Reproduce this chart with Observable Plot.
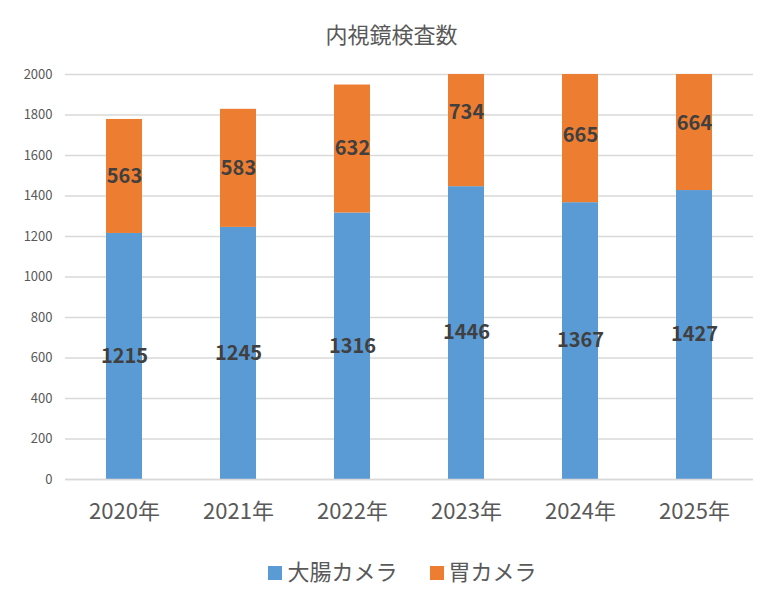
<!DOCTYPE html>
<html><head><meta charset="utf-8">
<script src="https://cdn.jsdelivr.net/npm/d3@7"></script>
<script src="https://cdn.jsdelivr.net/npm/@observablehq/plot@0.6"></script>
<style>
body{margin:0;background:#fff;font-family:"Noto Sans CJK JP","Noto Sans",sans-serif;}
#wrap{width:783px;}
#title{height:60px;text-align:center;font-size:22px;color:#595959;line-height:66px;}
#legend{display:flex;justify-content:center;align-items:center;gap:32px;font-size:22px;color:#595959;margin-top:14px;padding-left:22px;}
.sw{display:inline-block;width:14px;height:14px;margin-right:5px;vertical-align:middle;position:relative;top:-1px;}
svg text{font-family:"Noto Sans CJK JP","Noto Sans",sans-serif;}
</style></head>
<body><div id="wrap"><div id="title">内視鏡検査数</div><div id="chart"></div><div id="legend"></div></div>
<script>
const years = ["2020年","2021年","2022年","2023年","2024年","2025年"];
const colon = [1215,1245,1316,1446,1367,1427];
const stomach = [563,583,632,734,665,664];
const seriesNames = ["大腸カメラ","胃カメラ"];
const seriesColors = ["#5b9bd5","#ed7d31"];
const yTicks = [0,200,400,600,800,1000,1200,1400,1600,1800,2000];

const rows = [];
years.forEach((y,i)=>{
  rows.push({year:y, series:seriesNames[0], value:colon[i], base:0});
  rows.push({year:y, series:seriesNames[1], value:stomach[i], base:colon[i]});
});
rows.forEach(r=>{r.top=r.base+r.value; r.mid=r.base+r.value/2;});

const chart = Plot.plot({
  width:783, height:480,
  marginLeft:65, marginRight:30, marginTop:14, marginBottom:61,
  x:{domain:years, paddingInner:0.686, paddingOuter:0.343, label:null},
  y:{domain:[0,2000], label:null},
  color:{domain:seriesNames, range:seriesColors},
  style:{color:"#595959"},
  marks:[
    Plot.gridY(yTicks,{stroke:"#d9d9d9", strokeOpacity:1, strokeWidth:1.3}),
    Plot.rectY(rows,{x:"year", y1:"base", y2:"top", fill:"series", clip:true}),
    Plot.ruleY([0],{stroke:"#d9d9d9", strokeWidth:1.3}),
    Plot.axisY({ticks:yTicks, tickFormat:d=>String(d), tickSize:0, tickPadding:13, fontSize:13, fill:"#595959", label:null}),
    Plot.axisX({tickSize:0, tickPadding:24, fontSize:22, fill:"#595959", label:null}),
    Plot.text(rows,{x:"year", y:"mid", text:d=>String(d.value), fontSize:20, fontWeight:"bold", fill:"#404040", fontFamily:"Lato, 'Open Sans', sans-serif"})
  ]
});
document.getElementById("chart").appendChild(chart);
const lg = document.getElementById("legend");
seriesNames.forEach((n,i)=>{
  const s=document.createElement("span");
  s.innerHTML=`<span class="sw" style="background:${seriesColors[i]}"></span>${n}`;
  lg.appendChild(s);
});
</script></body></html>
